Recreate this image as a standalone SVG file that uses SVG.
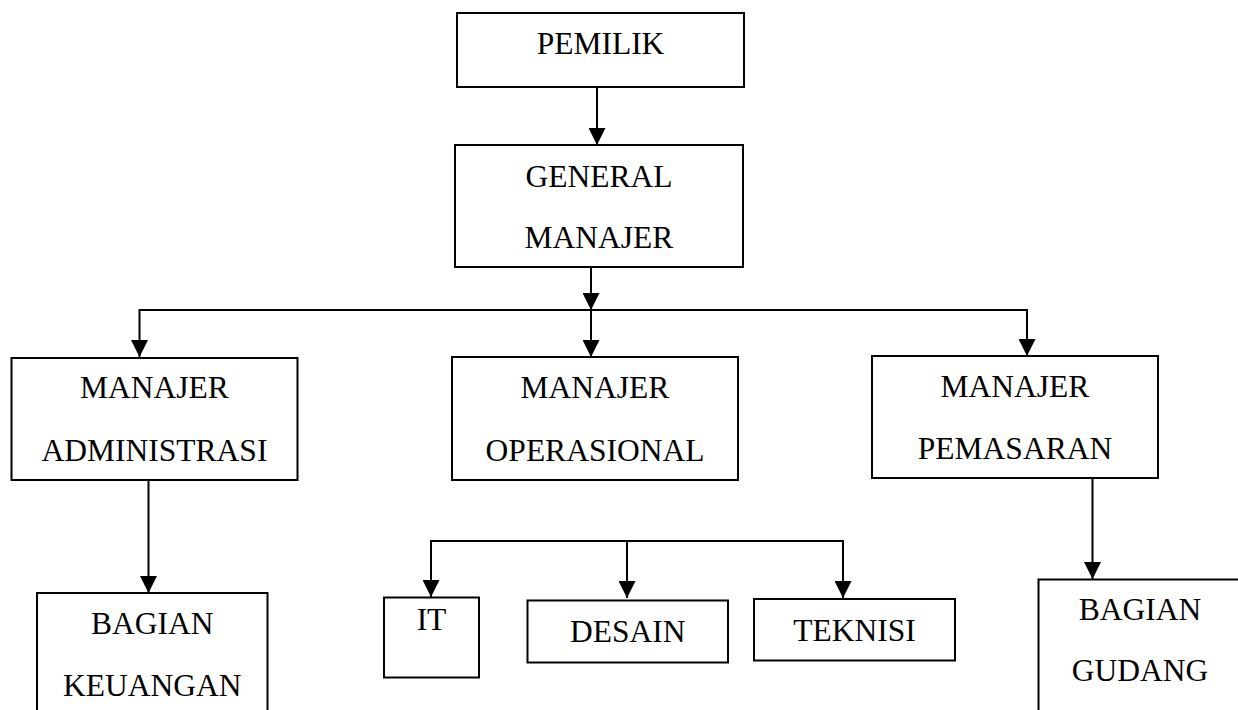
<svg xmlns="http://www.w3.org/2000/svg" width="1238" height="710" viewBox="0 0 1238 710">
<style>
.box{fill:#fff;stroke:#000;stroke-width:2}
.t{font-family:'Liberation Serif','Times New Roman',serif;font-size:31.5px;fill:#000;text-anchor:middle}
.c{fill:none;stroke:#000;stroke-width:2}
</style>
<defs>
<marker id="ah" markerUnits="userSpaceOnUse" markerWidth="17" markerHeight="17" refX="17" refY="8.5" orient="auto">
<path d="M0,0 L17,8.5 L0,17 z" fill="#000"/>
</marker>
</defs>
<rect width="1238" height="710" fill="#fff"/>
<g id="connectors">
<line class="c" x1="597" y1="87" x2="597" y2="145" marker-end="url(#ah)"/>
<line class="c" x1="591" y1="267" x2="591" y2="310" marker-end="url(#ah)"/>
<line class="c" x1="139.5" y1="310" x2="1028" y2="310"/>
<line class="c" x1="139.5" y1="309" x2="139.5" y2="357" marker-end="url(#ah)"/>
<line class="c" x1="591" y1="310" x2="591" y2="357" marker-end="url(#ah)"/>
<line class="c" x1="1027" y1="309" x2="1027" y2="356" marker-end="url(#ah)"/>
<line class="c" x1="148.5" y1="480" x2="148.5" y2="593" marker-end="url(#ah)"/>
<line class="c" x1="1092.5" y1="478" x2="1092.5" y2="579" marker-end="url(#ah)"/>
<polyline class="c" points="431,597 431,541 843,541"/>
<line class="c" x1="431" y1="545" x2="431" y2="597" marker-end="url(#ah)"/>
<line class="c" x1="627" y1="541" x2="627" y2="598" marker-end="url(#ah)"/>
<line class="c" x1="843" y1="540" x2="843" y2="598" marker-end="url(#ah)"/>
</g>
<g id="pemilik"><rect class="box" x="457" y="13" width="287" height="74"/><text class="t" x="600.5" y="54">PEMILIK</text></g>
<g id="general-manajer"><rect class="box" x="455" y="145" width="288" height="122"/><text class="t" x="599" y="187">GENERAL</text><text class="t" x="599" y="248">MANAJER</text></g>
<g id="manajer-administrasi"><rect class="box" x="11.5" y="358" width="286" height="122"/><text class="t" x="154.5" y="398">MANAJER</text><text class="t" x="154.5" y="460.5">ADMINISTRASI</text></g>
<g id="manajer-operasional"><rect class="box" x="452" y="357" width="286" height="123"/><text class="t" x="595" y="398">MANAJER</text><text class="t" x="595" y="460.5">OPERASIONAL</text></g>
<g id="manajer-pemasaran"><rect class="box" x="872" y="356" width="286" height="122"/><text class="t" x="1015" y="396.5">MANAJER</text><text class="t" x="1015" y="459">PEMASARAN</text></g>
<g id="bagian-keuangan"><rect class="box" x="37" y="593" width="230.5" height="130"/><text class="t" x="152.3" y="634">BAGIAN</text><text class="t" x="152.3" y="695.5">KEUANGAN</text></g>
<g id="it"><rect class="box" x="384" y="597.5" width="95" height="80"/><text class="t" x="431.5" y="630">IT</text></g>
<g id="desain"><rect class="box" x="527.5" y="600.5" width="200.5" height="62"/><text class="t" x="627.7" y="642">DESAIN</text></g>
<g id="teknisi"><rect class="box" x="754" y="599" width="201" height="61.5"/><text class="t" x="854.5" y="640.5">TEKNISI</text></g>
<g id="bagian-gudang"><rect class="box" x="1038.5" y="579.5" width="220" height="150"/><text class="t" x="1140" y="620">BAGIAN</text><text class="t" x="1140" y="681">GUDANG</text></g>
</svg>
